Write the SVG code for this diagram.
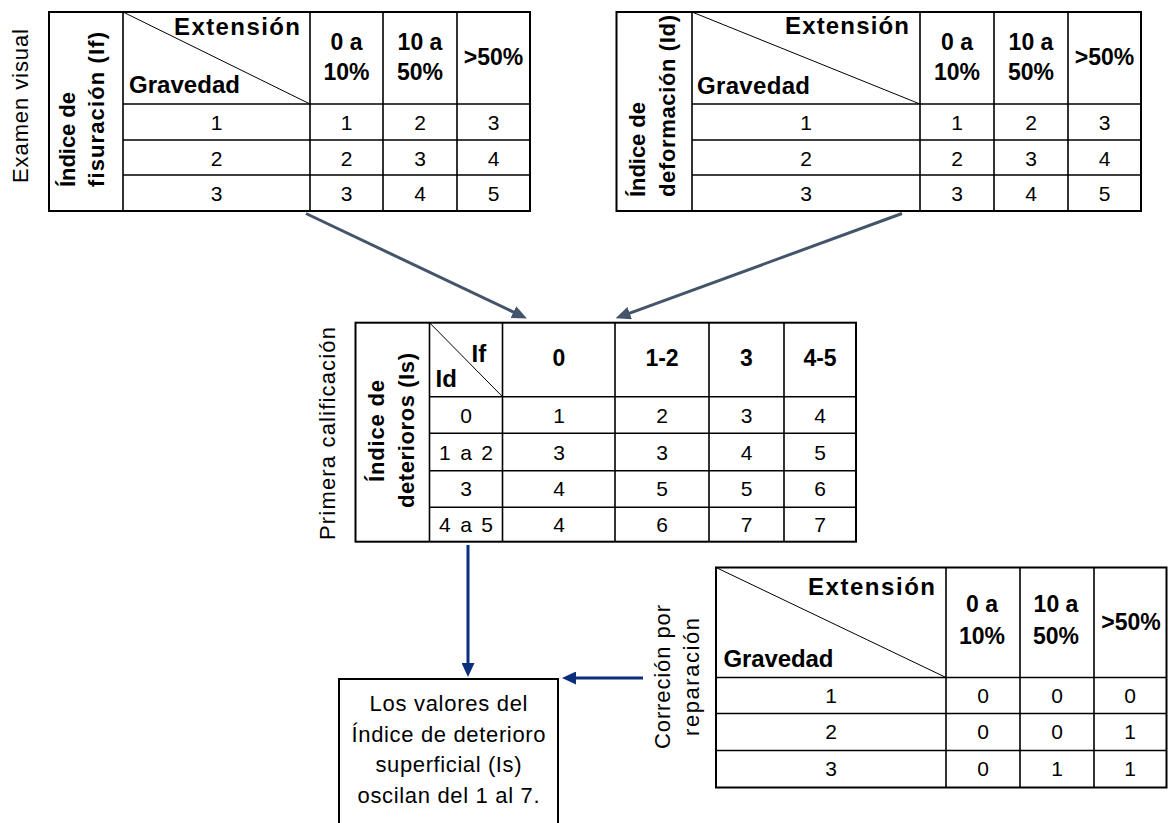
<svg xmlns="http://www.w3.org/2000/svg" width="1173" height="823" viewBox="0 0 1173 823">
<style>
.bg{fill:#fff}
.tb{fill:none;stroke:#000;stroke-width:2}
.ln{stroke:#000;stroke-width:1.6;fill:none}
.dg{stroke:#000;stroke-width:1;fill:none}
text{font-family:"Liberation Sans",Arial,sans-serif;fill:#000}
.n{font-size:21px;text-anchor:middle}
.bx{font-size:22px;text-anchor:middle}
.h{font-size:24px;font-weight:bold}
.hc{font-size:23px;font-weight:bold;text-anchor:middle}
.lb{font-size:22px;font-weight:bold}
.lr{font-size:22px}
.slate{stroke:#44546A;stroke-width:3;fill:none}
.navy{stroke:#0B2E7D;stroke-width:3;fill:none}
</style>
<defs>
<marker id="ahS" markerUnits="userSpaceOnUse" markerWidth="15" markerHeight="13" refX="2" refY="6.5" orient="auto">
<path d="M0,0 L15,6.5 L0,13 z" fill="#44546A"/>
</marker>
<marker id="ahN" markerUnits="userSpaceOnUse" markerWidth="14" markerHeight="13" refX="2" refY="6.5" orient="auto">
<path d="M0,0 L14,6.5 L0,13 z" fill="#0B2E7D"/>
</marker>
</defs>
<rect class="bg" x="0" y="0" width="1173" height="823"/>

<g id="tabla-fisuracion">
<text class="lr" transform="translate(28,106) rotate(-90)" text-anchor="middle" textLength="154" lengthAdjust="spacing">Examen visual</text>
<rect class="tb" x="49" y="12" width="481" height="199"/>
<path class="ln" d="M123,12V211M310,12V211M383,12V211M457,12V211M123,104H530M123,140H530M123,175H530"/>
<path class="dg" d="M123,12L310,104"/>
<text class="lb" transform="translate(75,187) rotate(-90)" textLength="95" lengthAdjust="spacing">Índice de</text>
<text class="lb" transform="translate(104,187) rotate(-90)" textLength="155" lengthAdjust="spacing">fisuración  (If)</text>
<text class="h" x="174" y="35" textLength="126" lengthAdjust="spacing">Extensión</text>
<text class="h" x="129" y="93" textLength="111" lengthAdjust="spacing">Gravedad</text>
<text class="hc" x="346.5" y="50">0 a</text>
<text class="hc" x="346.5" y="80">10%</text>
<text class="hc" x="420" y="50">10 a</text>
<text class="hc" x="420" y="80">50%</text>
<text class="hc" x="493.5" y="65">&gt;50%</text>
<text class="n" x="216.5" y="130">1</text><text class="n" x="346.5" y="130">1</text><text class="n" x="420" y="130">2</text><text class="n" x="493.5" y="130">3</text>
<text class="n" x="216.5" y="165.5">2</text><text class="n" x="346.5" y="165.5">2</text><text class="n" x="420" y="165.5">3</text><text class="n" x="493.5" y="165.5">4</text>
<text class="n" x="216.5" y="200.5">3</text><text class="n" x="346.5" y="200.5">3</text><text class="n" x="420" y="200.5">4</text><text class="n" x="493.5" y="200.5">5</text>
</g>

<g id="tabla-deformacion">
<rect class="tb" x="616.5" y="12" width="524.5" height="199"/>
<path class="ln" d="M692,12V211M920,12V211M994,12V211M1068,12V211M692,104H1141M692,140H1141M692,175H1141"/>
<path class="dg" d="M692,12L920,104"/>
<text class="lb" transform="translate(645,197) rotate(-90)" textLength="95" lengthAdjust="spacing">Índice de</text>
<text class="lb" transform="translate(675,197) rotate(-90)" textLength="182" lengthAdjust="spacing">deformación (Id)</text>
<text class="h" x="785" y="34" textLength="124" lengthAdjust="spacing">Extensión</text>
<text class="h" x="697" y="94" textLength="113" lengthAdjust="spacing">Gravedad</text>
<text class="hc" x="957" y="50">0 a</text>
<text class="hc" x="957" y="80">10%</text>
<text class="hc" x="1031" y="50">10 a</text>
<text class="hc" x="1031" y="80">50%</text>
<text class="hc" x="1104.5" y="65">&gt;50%</text>
<text class="n" x="806" y="130">1</text><text class="n" x="957" y="130">1</text><text class="n" x="1031" y="130">2</text><text class="n" x="1104.5" y="130">3</text>
<text class="n" x="806" y="165.5">2</text><text class="n" x="957" y="165.5">2</text><text class="n" x="1031" y="165.5">3</text><text class="n" x="1104.5" y="165.5">4</text>
<text class="n" x="806" y="200.5">3</text><text class="n" x="957" y="200.5">3</text><text class="n" x="1031" y="200.5">4</text><text class="n" x="1104.5" y="200.5">5</text>
</g>

<g id="tabla-deterioros">
<text class="lr" transform="translate(335,433.5) rotate(-90)" text-anchor="middle" textLength="213" lengthAdjust="spacing">Primera calificación</text>
<rect class="tb" x="355.5" y="322.7" width="500.5" height="219"/>
<path class="ln" d="M429.5,322.7V541.7M502.5,322.7V541.7M615,322.7V541.7M709,322.7V541.7M784,322.7V541.7M429.5,396.7H856M429.5,433.3H856M429.5,470.7H856M429.5,507.3H856"/>
<path class="dg" d="M429.5,322.7L502.5,396.7"/>
<text class="lb" transform="translate(384,431) rotate(-90)" text-anchor="middle" textLength="102" lengthAdjust="spacing">Índice de</text>
<text class="lb" transform="translate(414,430.5) rotate(-90)" text-anchor="middle" textLength="155" lengthAdjust="spacing">deterioros (Is)</text>
<text class="h" x="471.5" y="361.7">If</text>
<text class="h" x="435.5" y="386.7">Id</text>
<text class="hc" x="559" y="366">0</text>
<text class="hc" x="662" y="366">1-2</text>
<text class="hc" x="746.5" y="366">3</text>
<text class="hc" x="820" y="366">4-5</text>
<text class="n" x="466" y="422.5">0</text>
<text class="n" x="466" y="459.5" textLength="54" lengthAdjust="spacing">1 a 2</text>
<text class="n" x="466" y="496">3</text>
<text class="n" x="466" y="531.5" textLength="54" lengthAdjust="spacing">4 a 5</text>
<text class="n" x="559" y="422.5">1</text><text class="n" x="662" y="422.5">2</text><text class="n" x="746.5" y="422.5">3</text><text class="n" x="820" y="422.5">4</text>
<text class="n" x="559" y="459.5">3</text><text class="n" x="662" y="459.5">3</text><text class="n" x="746.5" y="459.5">4</text><text class="n" x="820" y="459.5">5</text>
<text class="n" x="559" y="496">4</text><text class="n" x="662" y="496">5</text><text class="n" x="746.5" y="496">5</text><text class="n" x="820" y="496">6</text>
<text class="n" x="559" y="531.5">4</text><text class="n" x="662" y="531.5">6</text><text class="n" x="746.5" y="531.5">7</text><text class="n" x="820" y="531.5">7</text>
</g>

<g id="tabla-correccion">
<text class="lr" transform="translate(670,677) rotate(-90)" text-anchor="middle" textLength="144" lengthAdjust="spacing">Correción por</text>
<text class="lr" transform="translate(699,677) rotate(-90)" text-anchor="middle" textLength="118" lengthAdjust="spacing">reparación</text>
<rect class="tb" x="716" y="567.5" width="450.5" height="220"/>
<path class="ln" d="M946,567.5V787.5M1020,567.5V787.5M1094,567.5V787.5M716,677.5H1166.5M716,713.5H1166.5M716,750.5H1166.5"/>
<path class="dg" d="M716,567.5L946,677.5"/>
<text class="h" x="808" y="595" textLength="127" lengthAdjust="spacing">Extensión</text>
<text class="h" x="723.5" y="667" textLength="110" lengthAdjust="spacing">Gravedad</text>
<text class="hc" x="982" y="612">0 a</text>
<text class="hc" x="982" y="644">10%</text>
<text class="hc" x="1056" y="612">10 a</text>
<text class="hc" x="1056" y="644">50%</text>
<text class="hc" x="1131" y="630">&gt;50%</text>
<text class="n" x="831" y="702.5">1</text><text class="n" x="983" y="702.5">0</text><text class="n" x="1057" y="702.5">0</text><text class="n" x="1130" y="702.5">0</text>
<text class="n" x="831" y="739">2</text><text class="n" x="983" y="739">0</text><text class="n" x="1057" y="739">0</text><text class="n" x="1130" y="739">1</text>
<text class="n" x="831" y="776">3</text><text class="n" x="983" y="776">0</text><text class="n" x="1057" y="776">1</text><text class="n" x="1130" y="776">1</text>
</g>

<g id="resultado">
<rect class="tb" x="339" y="679" width="219" height="160"/>
<text class="bx" x="448.5" y="711" textLength="158" lengthAdjust="spacing">Los valores del</text>
<text class="bx" x="448.5" y="742" textLength="194" lengthAdjust="spacing">Índice de deterioro</text>
<text class="bx" x="448.5" y="772" textLength="146" lengthAdjust="spacing">superficial (Is)</text>
<text class="bx" x="448.5" y="803" textLength="182" lengthAdjust="spacing">oscilan del 1 al 7.</text>
</g>

<g id="conectores">
<line class="slate" x1="306" y1="213.5" x2="515.2" y2="312.9" marker-end="url(#ahS)"/>
<line class="slate" x1="902" y1="213.5" x2="627.8" y2="313.9" marker-end="url(#ahS)"/>
<line class="navy" x1="468" y1="545" x2="468" y2="665" marker-end="url(#ahN)"/>
<line class="navy" x1="643" y1="678" x2="574" y2="678" marker-end="url(#ahN)"/>
</g>
</svg>
